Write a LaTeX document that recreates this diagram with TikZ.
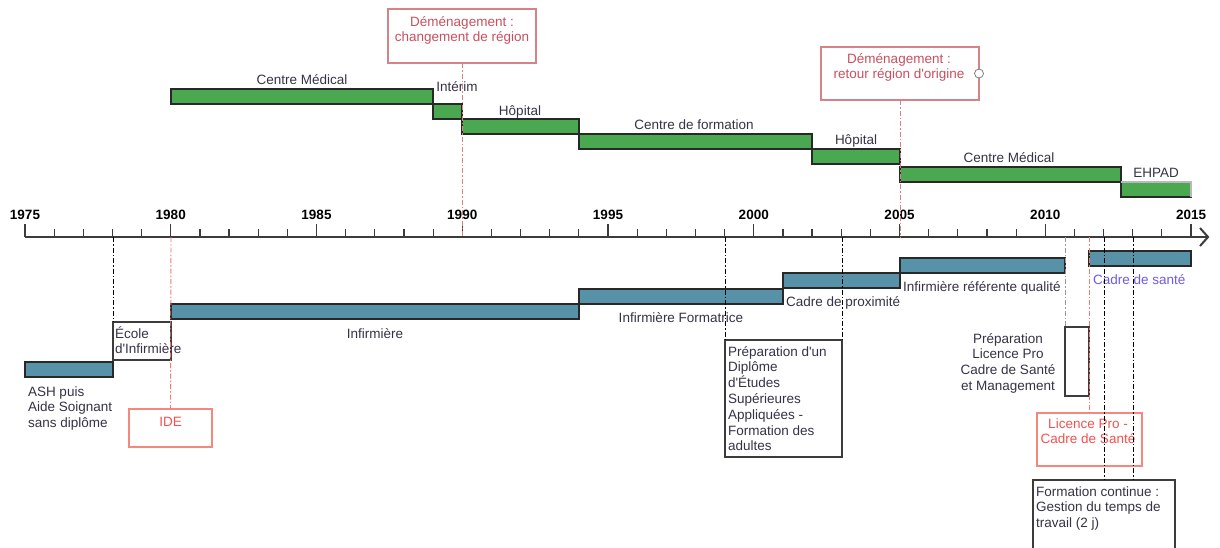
\documentclass[tikz,border=0pt]{standalone}
\usepackage{fontspec}
\setmainfont{Liberation Sans}[Ligatures=TeXOff]
\definecolor{txtc}{RGB}{55,50,70}
\definecolor{gfill}{RGB}{74,168,80}
\definecolor{bfill}{RGB}{88,146,168}
\definecolor{barline}{RGB}{40,40,40}
\definecolor{demline}{RGB}{215,130,135}
\definecolor{demtext}{RGB}{200,80,95}
\definecolor{redline}{RGB}{245,135,125}
\definecolor{redtext}{RGB}{245,80,80}
\definecolor{purp}{RGB}{110,90,235}
\definecolor{axisc}{RGB}{60,60,60}
\begin{document}
\begin{tikzpicture}[x=1pt,y=-1pt,
  txt/.style={font=\fontsize{13.5}{15.8}\selectfont, text=txtc, inner sep=0pt, outer sep=0pt},
  yearlbl/.style={font=\fontsize{13.5}{15.8}\selectfont\bfseries, text=black, inner sep=0pt, anchor=base},
  bar/.style={draw=barline, line width=1.2pt, inner sep=0pt, outer sep=0pt, minimum height=15pt, anchor=north west},
  gbar/.style={bar, fill=gfill},
  bbar/.style={bar, fill=bfill},
  box/.style={draw=axisc, line width=1.2pt, inner sep=0pt, outer sep=0pt, anchor=north west},
  dembox/.style={box, draw=demline},
  redbox/.style={box, draw=redline, line width=1.4pt},
  tickline/.style={draw=axisc, line width=1.2pt},
  dd/.style={draw=black, line width=0.9pt, dash pattern=on 5pt off 2pt on 1.5pt off 2pt},
  gdd/.style={dd, draw=gray!80},
  rdd/.style={dd, draw=redline!90!red},
  demdd/.style={dd, draw=demline},
]
\clip (0,0) rectangle (1220,547);
\fill[white] (0,0) rectangle (1220,547);

% ---- axis ----
\coordinate (ax0) at (25,237);
\coordinate (axend) at (1208,237);
\draw[axisc, line width=1.5pt] (ax0) -- (axend);
\draw[axisc, line width=2pt] ([shift={(-8,-9)}]axend) -- (axend) -- ([shift={(-8,9)}]axend);
\foreach \i in {0,...,40}{
  \pgfmathtruncatemacro\m{mod(\i,5)}
  \pgfmathsetmacro\xx{25+\i*29.15}
  \ifnum\m=0 \draw[tickline] (\xx,224) -- (\xx,237);
  \else \draw[tickline] (\xx,229) -- (\xx,237); \fi
}
\foreach \y in {1975,1980,...,2015}{
  \node[yearlbl] (y\y) at ({25+(\y-1975)*29.15},219) {\y};
}
\coordinate (a1978) at (113,237);
\coordinate (a1980) at (171,237);
\coordinate (a1990) at (462,237);
\coordinate (a1999) at (725,237);
\coordinate (a2003) at (842,237);
\coordinate (a2005) at (900,237);
\coordinate (a2010) at (1065,237);
\coordinate (a2011) at (1089.5,237);
\coordinate (a2012) at (1104,237);
\coordinate (a2013) at (1133,237);

% ---- green bars (workplaces) ----
\node[gbar, minimum width=262pt] (cm1) at (171,89) {};
\node[gbar, minimum width=29pt] (int) at (433,104) {};
\node[gbar, minimum width=117pt] (hop1) at (462,119) {};
\node[gbar, minimum width=233pt] (cf) at (579,134) {};
\node[gbar, minimum width=88pt] (hop2) at (812,149) {};
\node[gbar, minimum width=221pt] (cm2) at (900,167) {};
\node[gbar, minimum width=70pt] (ehpad) at (1121,182) {};
\draw[gray!55, line width=1.2pt] (ehpad.north west) -- (ehpad.north east) -- (ehpad.south east);

\node[txt, anchor=base] (cm1t) at (302,84) {Centre Médical};
\node[txt, anchor=base] (intt) at (457,91) {Intérim};
\node[txt, anchor=base] (hop1t) at (520,115) {Hôpital};
\node[txt, anchor=base] (cft) at (694,129) {Centre de formation};
\node[txt, anchor=base] (hop2t) at (856,144) {Hôpital};
\node[txt, anchor=base] (cm2t) at (1009,162) {Centre Médical};
\node[txt, anchor=base] (ehpadt) at (1156,177) {EHPAD};

% ---- moving boxes ----
\node[dembox, minimum width=148pt, minimum height=54pt] (dem1) at (388,9) {};
\node[txt, text=demtext, anchor=north, align=center] (dem1t) at (462,13) {\rule{0pt}{13pt}Déménagement :\\changement de région};
\node[dembox, minimum width=158pt, minimum height=53pt] (dem2) at (821,47) {};
\node[txt, text=demtext, anchor=north, align=center] (dem2t) at (899,50) {\rule{0pt}{13pt}Déménagement :\\retour région d'origine};
\node[circle, draw=gray, fill=white, minimum size=9pt, inner sep=0pt, line width=0.8pt] (knob) at (dem2.east) {};

% ---- blue bars (positions) ----
\node[bbar, minimum width=88pt] (ash) at (25,362) {};
\node[bbar, minimum width=408pt] (inf) at (171,304) {};
\node[bbar, minimum width=204pt] (infF) at (579,289) {};
\node[bbar, minimum width=117pt] (cprox) at (783,273) {};
\node[bbar, minimum width=165pt] (irq) at (900,258) {};
\node[bbar, minimum width=102pt] (cds) at (1089,251) {};

\node[txt, anchor=north west, align=left] (asht) at (28,383) {\rule{0pt}{13pt}ASH puis\\Aide Soignant\\sans diplôme};
\node[txt, anchor=base] (inft) at (375,338) {Infirmière};
\node[txt, anchor=base] (infFt) at (681,322) {Infirmière Formatrice};
\node[txt, anchor=base west] (cproxt) at (786,306) {Cadre de proximité};
\node[txt, anchor=base west] (irqt) at (903,291) {Infirmière référente qualité};
\node[txt, anchor=base west, text=purp] (cdst) at (1093,284) {Cadre de santé};

% ---- training boxes ----
\node[box, minimum width=58pt, minimum height=38pt] (ecole) at (113,322) {};
\node[txt, anchor=north west, align=left] (ecolet) at (115,325) {\rule{0pt}{13pt}École\\d'Infirmière};
\node[redbox, minimum width=83pt, minimum height=38pt] (ide) at (129,409) {};
\node[txt, text=redtext, anchor=base] (idet) at (170.5,426) {IDE};

\node[box, minimum width=117pt, minimum height=117pt] (prep) at (725,340) {};
\node[txt, anchor=north west, align=left] (prept) at (728,343) {\rule{0pt}{13pt}Préparation d'un\\Diplôme\\d'Études\\Supérieures\\Appliquées -\\Formation des\\adultes};

\node[box, minimum width=24pt, minimum height=69pt] (lpprep) at (1065,327) {};
\node[txt, anchor=north, align=center] (lpprept) at (1008,330) {\rule{0pt}{13pt}Préparation\\Licence Pro\\Cadre de Santé\\et Management};

\node[redbox, minimum width=105pt, minimum height=53pt] (lp) at (1037,413) {};
\node[txt, text=redtext, anchor=north, align=center] (lpt) at (1088,415) {\rule{0pt}{13pt}Licence Pro -\\Cadre de Santé};

\node[box, minimum width=142pt, minimum height=80pt] (fc) at (1033,480) {};
\node[txt, anchor=north west, align=left] (fct) at (1036,483) {\rule{0pt}{13pt}Formation continue :\\Gestion du temps de\\travail (2 j)};

% ---- connectors ----
\draw[dd] (a1978) -- (ecole.north west);
\draw[rdd] (a1980) -- (ide.north);
\draw[dd] (a1999) -- (prep.north west);
\draw[dd] (a2003) -- (prep.north east);
\draw[gdd] (a2010) -- (lpprep.north west);
\draw[rdd] (a2011) -- (lp.north);
\draw[dd] (a2012) -- (a2012 |- fc.north);
\draw[dd] (a2013) -- (a2013 |- fc.north);
\draw[demdd] (dem1.south) -- (a1990);
\draw[demdd] (dem2.south) -- (a2005);
\end{tikzpicture}
\end{document}
